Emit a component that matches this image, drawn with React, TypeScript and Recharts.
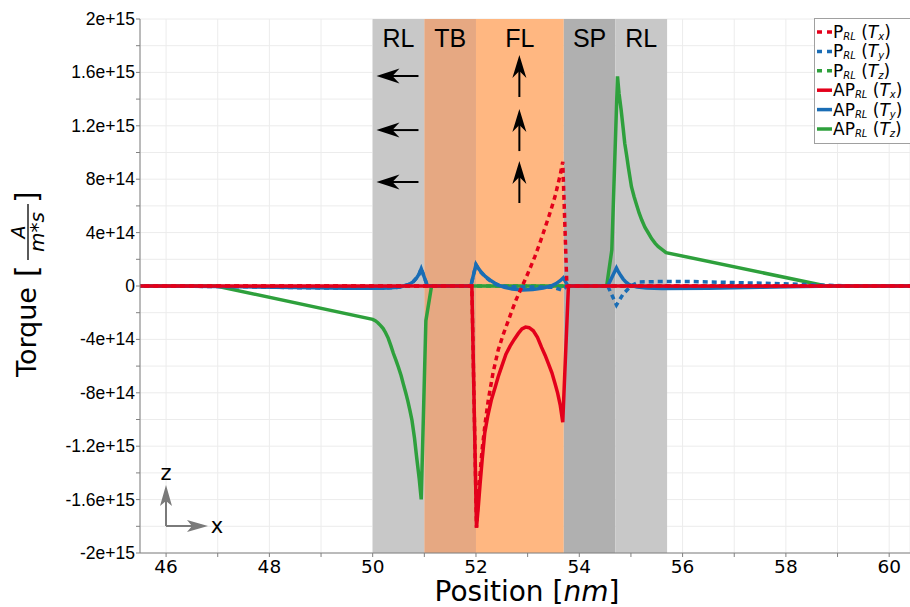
import React from 'react';
import { LineChart, Line, XAxis, YAxis, CartesianGrid, ReferenceArea, ReferenceDot } from 'recharts';

const UNIT = 1e14;

// layer regions (nm)
const regionNames = ['RL', 'TB', 'FL', 'SP', 'RL'];
const regionStart = [50, 51, 52, 53.7, 54.7];
const regionEnd = [51, 52, 53.7, 54.7, 55.7];
const regionColors = ['#c8c8c8', '#e6a882', '#ffb781', '#b0b0b0', '#c8c8c8'];

// ticks
const xTicks = [46, 47, 48, 49, 50, 51, 52, 53, 54, 55, 56, 57, 58, 59, 60];
const xLabeled = [46, 48, 50, 52, 54, 56, 58, 60];
const yTicksE14 = [-20, -18, -16, -14, -12, -10, -8, -6, -4, -2, 0, 2, 4, 6, 8, 10, 12, 14, 16, 18, 20];
const yLabeledE14 = [-20, -16, -12, -8, -4, 0, 4, 8, 12, 16, 20];

// magnetization arrows (nm, e14)
const arrowRowsE14 = [15.73, 11.68, 7.79];
const leftArrowX = 50.48;
const upArrowX = 52.84;

// P_RL (T_x)
const pTxX = [45.4, 51.92, 52.01, 52.04, 52.08, 52.12, 52.18, 52.24, 52.33, 52.43, 52.53, 52.63, 52.7, 52.78, 52.85, 52.92, 53.0, 53.07, 53.14, 53.21, 53.28, 53.34, 53.41, 53.47, 53.53, 53.58, 53.63, 53.68, 53.76, 60.5];
const pTxY = [0, 0, -18.1, -16.0, -14.0, -12.2, -10.2, -8.5, -6.5, -4.8, -3.6, -2.55, -1.8, -1.0, -0.4, 0.2, 0.9, 1.55, 2.2, 2.94, 3.7, 4.4, 5.2, 5.94, 6.7, 7.5, 8.3, 9.3, 0, 0];

// P_RL (T_y)
const pTyX = [45.4, 46.5, 47.5, 48.5, 49.5, 50.2, 50.5, 50.6, 50.7, 50.78, 50.85, 50.9, 50.94, 51.06, 51.9, 52.0, 52.05, 52.1, 52.18, 52.27, 52.36, 52.45, 52.6, 52.8, 53.0, 53.3, 53.5, 53.62, 53.67, 53.76, 54.55, 54.72, 54.85, 55.0, 55.15, 55.5, 56.2, 57.1, 58.1, 58.8, 59.3, 60.5];
const pTyY = [0, -0.02, -0.06, -0.12, -0.17, -0.17, -0.1, 0.0, 0.12, 0.3, 0.6, 0.9, 1.3, 0, 0, 1.6, 1.28, 1.0, 0.68, 0.4, 0.18, 0.03, -0.05, -0.08, -0.08, -0.08, -0.1, -0.25, -0.32, 0, 0, -1.42, -0.6, 0.0, 0.3, 0.33, 0.33, 0.25, 0.15, 0.05, 0, 0];

// P_RL (T_z)
const pTzX = [45.4, 60.5];
const pTzY = [0, 0];

// AP_RL (T_x)
const apTxX = [45.4, 51.92, 52.01, 52.05, 52.08, 52.12, 52.17, 52.23, 52.3, 52.37, 52.43, 52.5, 52.58, 52.66, 52.74, 52.82, 52.89, 52.96, 53.03, 53.11, 53.19, 53.27, 53.34, 53.4, 53.47, 53.53, 53.58, 53.63, 53.68, 53.79, 60.5];
const apTxY = [0, 0, -18.1, -16.3, -14.8, -13.0, -11.0, -9.7, -8.5, -7.6, -6.8, -6.0, -5.1, -4.5, -4.0, -3.55, -3.22, -3.08, -3.12, -3.35, -3.85, -4.6, -5.2, -5.8, -6.5, -7.3, -8.0, -8.9, -10.2, 0, 0];

// AP_RL (T_y)
const apTyX = [45.4, 46.5, 47.5, 48.5, 49.5, 50.2, 50.5, 50.6, 50.7, 50.78, 50.85, 50.9, 50.94, 51.06, 51.9, 52.0, 52.05, 52.1, 52.18, 52.27, 52.36, 52.45, 52.55, 52.7, 52.9, 53.1, 53.3, 53.45, 53.55, 53.63, 53.69, 53.78, 54.55, 54.72, 54.76, 54.8, 54.85, 54.9, 54.95, 55.0, 55.12, 55.3, 55.6, 56.5, 57.5, 58.3, 59.0, 60.5];
const apTyY = [0, -0.02, -0.06, -0.12, -0.17, -0.17, -0.1, 0.0, 0.12, 0.3, 0.6, 0.9, 1.3, 0, 0, 1.6, 1.3, 1.05, 0.72, 0.45, 0.22, 0.05, -0.1, -0.22, -0.3, -0.27, -0.15, 0, 0.18, 0.4, 0.62, 0, 0, 1.35, 1.05, 0.8, 0.52, 0.3, 0.15, 0.05, -0.08, -0.15, -0.18, -0.17, -0.1, -0.04, 0, 0];

// AP_RL (T_z)
const apTzX = [45.4, 46.97, 50.0, 50.05, 50.1, 50.15, 50.2, 50.25, 50.3, 50.35, 50.4, 50.45, 50.5, 50.55, 50.59, 50.64, 50.68, 50.72, 50.76, 50.81, 50.85, 50.9, 50.94, 51.03, 51.14, 54.53, 54.63, 54.74, 54.77, 54.81, 54.85, 54.88, 54.92, 54.95, 55.01, 55.06, 55.11, 55.16, 55.21, 55.27, 55.34, 55.4, 55.47, 55.53, 55.58, 55.63, 55.68, 58.78, 60.5];
const apTzY = [0, 0, -2.5, -2.6, -2.75, -2.95, -3.17, -3.5, -3.9, -4.45, -5.04, -5.55, -6.1, -6.7, -7.29, -8.0, -8.6, -9.3, -10.04, -11.4, -12.79, -14.4, -15.98, -2.6, 0, 0, 2.7, 15.7, 14.4, 13.2, 11.8, 10.7, 9.7, 8.9, 7.44, 6.7, 6.07, 5.45, 4.94, 4.4, 3.95, 3.55, 3.19, 2.95, 2.8, 2.65, 2.5, 0, 0];

const RED = '#e3001b';
const BLUE = '#1a6db5';
const GREEN = '#2ea03c';

const build = (xs: number[], ys: number[]) => xs.map((x, i) => ({ x, y: ys[i] * UNIT }));

const seriesDefs = [
  { key: 'pTz', xs: pTzX, ys: pTzY, color: GREEN, dashed: true },
  { key: 'apTz', xs: apTzX, ys: apTzY, color: GREEN, dashed: false },
  { key: 'apTy', xs: apTyX, ys: apTyY, color: BLUE, dashed: false },
  { key: 'pTy', xs: pTyX, ys: pTyY, color: BLUE, dashed: true },
  { key: 'pTx', xs: pTxX, ys: pTxY, color: RED, dashed: true },
  { key: 'apTx', xs: apTxX, ys: apTxY, color: RED, dashed: false },
];

const legendItems = [
  { pre: 'P', comp: 'x', color: RED, dashed: true },
  { pre: 'P', comp: 'y', color: BLUE, dashed: true },
  { pre: 'P', comp: 'z', color: GREEN, dashed: true },
  { pre: 'AP', comp: 'x', color: RED, dashed: false },
  { pre: 'AP', comp: 'y', color: BLUE, dashed: false },
  { pre: 'AP', comp: 'z', color: GREEN, dashed: false },
];

const AXIS_GRAY = '#808080';

const XTick = (props: any) => {
  const { x, y, payload } = props;
  const v = payload.value;
  const major = xLabeled.includes(v);
  return (
    <g>
      <line x1={x} x2={x} y1={y} y2={y + 4} stroke={AXIS_GRAY} strokeWidth={1} />
      {major && (
        <text x={x} y={y + 20} textAnchor="middle" fontSize={18.5} fontFamily="DejaVu Sans" fill="#000">
          {v}
        </text>
      )}
    </g>
  );
};

const YTick = (props: any) => {
  const { x, y, payload } = props;
  const v = payload.value;
  const major = yLabeledE14.some((t) => t * UNIT === v);
  const label = v === 0 ? '0' : v.toExponential();
  return (
    <g>
      <line x1={x - 4} x2={x} y1={y} y2={y} stroke={AXIS_GRAY} strokeWidth={1} />
      {major && (
        <text x={x - 5} y={y + 6} textAnchor="end" fontSize={17.5} fontFamily="Liberation Sans" fill="#000">
          {label}
        </text>
      )}
    </g>
  );
};

const LeftArrow = (p: any) => {
  const { cx, cy } = p;
  const tip = cx - 21;
  const tail = cx + 21;
  return (
    <g>
      <line x1={tip + 14} x2={tail} y1={cy} y2={cy} stroke="#000" strokeWidth={2} />
      <path d={`M${tip},${cy} L${tip + 23},${cy - 7.5} L${tip + 16},${cy} L${tip + 23},${cy + 7.5} Z`} fill="#000" />
    </g>
  );
};

const UpArrow = (p: any) => {
  const { cx, cy } = p;
  const tip = cy - 21;
  const tail = cy + 21;
  return (
    <g>
      <line x1={cx} x2={cx} y1={tip + 14} y2={tail} stroke="#000" strokeWidth={2} />
      <path d={`M${cx},${tip} L${cx - 7},${tip + 23} L${cx},${tip + 16} L${cx + 7},${tip + 23} Z`} fill="#000" />
    </g>
  );
};

const Overlay = () => (
  <svg width={910} height={607} style={{ position: 'absolute', left: 0, top: 0, pointerEvents: 'none' }}>
    {/* Y axis label */}
    <g transform="translate(36,284) rotate(-90)" fontFamily="DejaVu Sans" fill="#000">
      <text x={-93} y={0} fontSize={27}>Torque</text>
      <text x={7} y={1} fontSize={30}>[</text>
      <text x={52} y={-11} fontSize={19} fontStyle="italic" textAnchor="middle">A</text>
      <line x1={24} x2={80} y1={-8} y2={-8} stroke="#000" strokeWidth={1.3} />
      <text x={52} y={8} fontSize={20} fontStyle="italic" textAnchor="middle">m*s</text>
      <text x={81} y={1} fontSize={30}>]</text>
    </g>
    {/* X axis label */}
    <text x={527} y={601} textAnchor="middle" fontSize={28} fontFamily="DejaVu Sans" fill="#000">
      Position [<tspan fontStyle="italic">nm</tspan>]
    </text>
    {/* legend */}
    <rect x={814.5} y={18.5} width={100} height={125} fill="#fff" stroke="#a0a0a0" strokeWidth={1} />
    {legendItems.map((it, i) => {
      const ry = 32 + 19.4 * i;
      return (
        <g key={i}>
          <line x1={817} x2={832} y1={ry} y2={ry} stroke={it.color} strokeWidth={3.5} strokeDasharray={it.dashed ? '5 5' : undefined} />
          <text x={833} y={ry + 6} fontSize={17} fontFamily="DejaVu Sans" fill="#000">
            {it.pre}
            <tspan fontSize={10} fontStyle="italic" dy={2}>RL</tspan>
            <tspan dy={-2}> (</tspan>
            <tspan fontStyle="italic">T</tspan>
            <tspan fontSize={10} fontStyle="italic" dy={2}>{it.comp}</tspan>
            <tspan dy={-2}>)</tspan>
          </text>
        </g>
      );
    })}
    {/* axis triad */}
    <g stroke="#7a7a7a" fill="#7a7a7a">
      <line x1={166} x2={166} y1={526} y2={500} strokeWidth={2} />
      <path d="M166,485 L160,506 L166,501 L172,506 Z" stroke="none" />
      <line x1={166} x2={192} y1={526} y2={526} strokeWidth={2} />
      <path d="M208,526 L187,520 L192,526 L187,532 Z" stroke="none" />
    </g>
    <text x={166} y={480} textAnchor="middle" fontSize={21} fontFamily="DejaVu Sans" fill="#000">z</text>
    <text x={217} y={533} textAnchor="middle" fontSize={21} fontFamily="DejaVu Sans" fill="#000">x</text>
  </svg>
);

export default function App() {
  return (
    <div style={{ position: 'absolute', left: 0, top: 0, width: 910, height: 607, background: '#fff' }}>
      <LineChart width={910} height={607} margin={{ top: 19, right: 0, bottom: 0, left: 0 }}>
        <CartesianGrid stroke="#ececec" strokeWidth={1} />
        <XAxis
          dataKey="x"
          type="number"
          domain={[45.495, 60.403]}
          allowDataOverflow
          ticks={xTicks}
          interval={0}
          height={54}
          tickSize={0}
          tickMargin={0}
          tickLine={false}
          tick={<XTick />}
          axisLine={{ stroke: AXIS_GRAY, strokeWidth: 1 }}
        />
        <YAxis
          type="number"
          domain={[-20 * UNIT, 20 * UNIT]}
          allowDataOverflow
          ticks={yTicksE14.map((t) => t * UNIT)}
          interval={0}
          width={140}
          tickSize={0}
          tickMargin={0}
          tickLine={false}
          tick={<YTick />}
          axisLine={{ stroke: AXIS_GRAY, strokeWidth: 1 }}
        />
        {regionNames.map((name, i) => (
          <ReferenceArea
            key={'r' + i}
            x1={regionStart[i]}
            x2={regionEnd[i]}
            y1={-20 * UNIT}
            y2={20 * UNIT}
            fill={regionColors[i]}
            fillOpacity={1}
            stroke="none"
            label={{ value: name, position: 'insideTop', offset: 10, fontSize: 25, fill: '#000', fontFamily: 'Liberation Sans' }}
          />
        ))}
        {arrowRowsE14.map((r, i) => (
          <ReferenceDot key={'la' + i} x={leftArrowX} y={r * UNIT} r={1} shape={(p: any) => <LeftArrow {...p} />} />
        ))}
        {arrowRowsE14.map((r, i) => (
          <ReferenceDot key={'ua' + i} x={upArrowX} y={r * UNIT} r={1} shape={(p: any) => <UpArrow {...p} />} />
        ))}
        {seriesDefs.map((s) => (
          <Line
            key={s.key}
            data={build(s.xs, s.ys)}
            dataKey="y"
            type="linear"
            stroke={s.color}
            strokeWidth={3.5}
            strokeDasharray={s.dashed ? '5 4' : undefined}
            dot={false}
            activeDot={false}
            isAnimationActive={false}
            legendType="none"
          />
        ))}
      </LineChart>
      <Overlay />
    </div>
  );
}
